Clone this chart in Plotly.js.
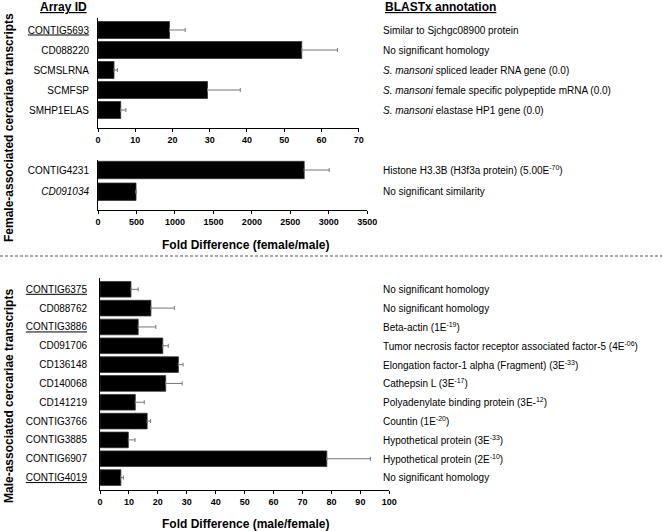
<!DOCTYPE html>
<html><head><meta charset="utf-8">
<script src="https://cdn.plot.ly/plotly-3.0.1.min.js"></script>
<style>html,body{margin:0;padding:0;background:#fff}#chart{width:662px;height:531px}</style>
</head><body><div id="chart"></div>
<script>
// ---------- DATA ----------
const femaleIds = ["CONTIG5693", "CD088220", "SCMSLRNA", "SCMFSP", "SMHP1ELAS"];
const femaleFold = [19.2, 54.7, 4.3, 29.4, 6.1];
const femaleErr = [4.2, 9.6, 0.9, 8.8, 1.4];
const femaleNotes = [
  "Similar to Sjchgc08900 protein",
  "No significant homology",
  "<i>S. mansoni</i> spliced leader RNA gene (0.0)",
  "<i>S. mansoni</i> female specific polypeptide mRNA (0.0)",
  "<i>S. mansoni</i> elastase HP1 gene (0.0)"
];

const femaleHighIds = ["CONTIG4231", "CD091034"];
const femaleHighFold = [2680, 494];
const femaleHighErr = [325, 0];
const femaleHighNotes = [
  "Histone H3.3B (H3f3a protein) (5.00E<sup>-70</sup>)",
  "No significant similarity"
];

const maleIds = ["CONTIG6375", "CD088762", "CONTIG3886", "CD091706", "CD136148", "CD140068",
  "CD141219", "CONTIG3766", "CONTIG3885", "CONTIG6907", "CONTIG4019"];
const maleFold = [10.7, 17.6, 13.2, 21.7, 27.1, 22.7, 12.2, 16.3, 9.8, 78.4, 7.2];
const maleErr = [2.5, 8.1, 6.1, 1.9, 1.6, 5.7, 3.1, 1.2, 2.3, 15.1, 0.9];
const maleNotes = [
  "No significant homology",
  "No significant homology",
  "Beta-actin (1E<sup>-19</sup>)",
  "Tumor necrosis factor receptor associated factor-5 (4E<sup>-06</sup>)",
  "Elongation factor-1 alpha (Fragment) (3E<sup>-33</sup>)",
  "Cathepsin L (3E<sup>-17</sup>)",
  "Polyadenylate binding protein (3E-<sup>12</sup>)",
  "Countin (1E<sup>-20</sup>)",
  "Hypothetical protein (3E<sup>-33</sup>)",
  "Hypothetical protein (2E<sup>-10</sup>)",
  "No significant homology"
];

const underlinedIds = ["CONTIG5693", "CONTIG6375", "CONTIG3886", "CONTIG4019"];
const italicIds = ["CD091034"];

// ---------- LAYOUT HELPERS ----------
const W = 662, H = 531;
const px = x => x / W;
const py = y => 1 - y / H;
const FONT = "Arial, 'Liberation Sans', sans-serif";

function label(id) {
  let t = id;
  if (italicIds.includes(id)) t = "<i>" + t + "</i>";
  if (underlinedIds.includes(id)) t = "<u>" + t + "</u>";
  return t;
}

function barTrace(ids, vals, errs, xa, ya, w) {
  return {
    type: "bar", orientation: "h",
    y: ids, x: vals, xaxis: xa, yaxis: ya, width: w,
    marker: {color: "#000", line: {color: "#333", width: 0.8}},
    error_x: {type: "data", symmetric: false, array: errs, arrayminus: errs.map(() => 0),
      color: "#777", thickness: 1, width: 2},
    hoverinfo: "skip"
  };
}

const data = [
  barTrace(femaleIds, femaleFold, femaleErr, "x", "y", 0.85),
  barTrace(femaleHighIds, femaleHighFold, femaleHighErr, "x2", "y2", 0.8),
  barTrace(maleIds, maleFold, maleErr, "x3", "y3", 0.83)
];

function xAxis(domain, anchor, range, dtick) {
  return {
    domain: domain, anchor: anchor, range: range, dtick: dtick,
    showgrid: false, zeroline: false, showline: true, linecolor: "#000", linewidth: 1.3,
    ticks: "outside", ticklen: 3, tickwidth: 1, tickcolor: "#000",
    tickfont: {family: FONT, size: 9, color: "#000", weight: "bold"},
    fixedrange: true
  };
}
function yAxis(domain, anchor, ids, range, standoff) {
  return {
    domain: domain, anchor: anchor, type: "category",
    categoryorder: "array", categoryarray: ids, range: range,
    tickvals: ids, ticktext: ids.map(label),
    showgrid: false, zeroline: false, showline: true, linecolor: "#000", linewidth: 1,
    ticks: "", ticklabelstandoff: standoff,
    tickfont: {family: FONT, size: 10, color: "#000"},
    fixedrange: true
  };
}

const annotations = [];
function notes(ids, texts, yref) {
  ids.forEach((id, i) => annotations.push({
    xref: "paper", yref: yref, x: px(381), y: id, xanchor: "left", yanchor: "middle",
    text: texts[i], showarrow: false, font: {family: FONT, size: 10, color: "#000"}
  }));
}
notes(femaleIds, femaleNotes, "y");
notes(femaleHighIds, femaleHighNotes, "y2");
notes(maleIds, maleNotes, "y3");

const boldFont = {family: FONT, size: 12, color: "#000", weight: "bold"};
annotations.push(
  {xref: "paper", yref: "paper", x: px(63), y: py(7), xanchor: "center", yanchor: "middle",
   text: "<u><b>Array ID</b></u>", showarrow: false, font: boldFont},
  {xref: "paper", yref: "paper", x: px(383), y: py(7), xanchor: "left", yanchor: "middle",
   text: "<u><b>BLASTx annotation</b></u>", showarrow: false, font: boldFont},
  {xref: "paper", yref: "paper", x: px(245), y: py(245), xanchor: "center", yanchor: "middle",
   text: "<b>Fold Difference (female/male)</b>", showarrow: false, font: boldFont},
  {xref: "paper", yref: "paper", x: px(245), y: py(524), xanchor: "center", yanchor: "middle",
   text: "<b>Fold Difference (male/female)</b>", showarrow: false, font: boldFont},
  {xref: "paper", yref: "paper", x: px(9), y: py(128), xanchor: "center", yanchor: "middle",
   textangle: -90, text: "<b>Female-associated cercariae transcripts</b>", showarrow: false, font: boldFont},
  {xref: "paper", yref: "paper", x: px(9), y: py(396), xanchor: "center", yanchor: "middle",
   textangle: -90, text: "<b>Male-associated cercariae transcripts</b>", showarrow: false, font: boldFont}
);

const layout = {
  width: W, height: H,
  margin: {l: 0, r: 0, t: 0, b: 0, pad: 0},
  paper_bgcolor: "#fff", plot_bgcolor: "#fff",
  showlegend: false, bargap: 0.15,
  font: {family: FONT, color: "#000"},
  xaxis: xAxis([px(98), px(358.7)], "y", [0, 70], 10),
  yaxis: yAxis([py(128), py(18)], "x", femaleIds, [4.9, -0.6], 6),
  xaxis2: xAxis([px(98), px(367.3)], "y2", [0, 3500], 500),
  yaxis2: yAxis([py(210), py(160)], "x2", femaleHighIds, [1.84, -0.46], 6),
  xaxis3: xAxis([px(100), px(389.3)], "y3", [0, 100], 10),
  yaxis3: yAxis([py(490), py(278)], "x3", maleIds, [10.66, -0.6], 10),
  annotations: annotations,
  shapes: [{type: "line", xref: "paper", yref: "paper", x0: 0, x1: 1, y0: py(256), y1: py(256),
    line: {color: "#555", width: 1, dash: "3px,2px"}}]
};

Plotly.newPlot("chart", data, layout, {staticPlot: true, displayModeBar: false});
</script></body></html>
